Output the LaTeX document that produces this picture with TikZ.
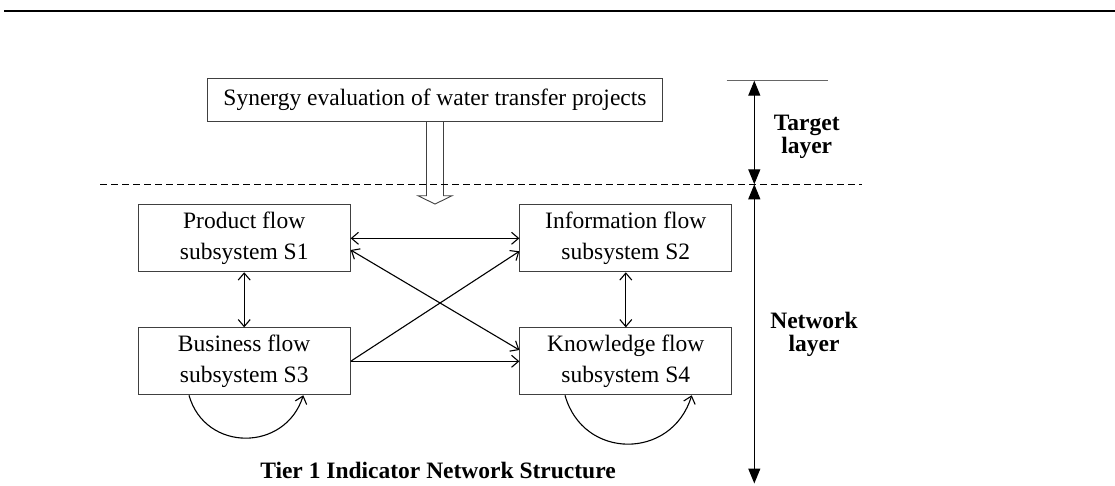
\documentclass[tikz,border=0pt]{standalone}
\usepackage{fontspec}
\setmainfont{Liberation Serif}
\usetikzlibrary{arrows.meta}
\begin{document}
\begin{tikzpicture}[x=1pt,y=-1pt,
  sysbox/.style={draw=black!75,line width=0.9pt,minimum width=212pt,minimum height=67pt,align=center,inner sep=0pt,font=\fontsize{23.5}{31}\selectfont},
  link/.style={line width=1.1pt,-{Straight Barb[length=7pt,width=12pt]}},
  both/.style={line width=1.1pt,{Straight Barb[length=7pt,width=12pt]}-{Straight Barb[length=7pt,width=12pt]}},
  layerarrow/.style={line width=1.2pt,{Triangle[length=15pt,width=12pt]}-{Triangle[length=15pt,width=12pt]}},
  lbl/.style={font=\fontsize{23.5}{23.5}\selectfont\bfseries,align=center,inner sep=0pt}]
\useasboundingbox (0,0) rectangle (1115,486);
\draw[line width=2.5pt] (4,11) -- (1115,11);
% target
\node[sysbox,minimum width=455pt,minimum height=43pt] (T) at (435,99.8) {Synergy evaluation of water transfer projects};
\draw[line width=0.9pt,draw=black!75] ([xshift=-8.5pt]T.south) -- ++(0,74) -- ++(-8.5,0) -- ++(17,8.3) -- ++(17,-8.3) -- ++(-8.5,0) -- ++(0,-74);
% dashed separator
\coordinate (dl) at (100,184.3);
\coordinate (dr) at (862,184.3);
\draw[line width=1pt,dash pattern=on 7pt off 4pt] (dl) -- (dr);
% subsystems
\node[sysbox] (S1) at (244.2,238.3) {Product flow\\subsystem S1};
\node[sysbox] (S2) at (625.8,238.3) {Information flow\\subsystem S2};
\node[sysbox] (S3) at (244.2,361.3) {Business flow\\subsystem S3};
\node[sysbox] (S4) at (625.8,361.3) {Knowledge flow\\subsystem S4};
% connectors
\draw[both] (S1) -- (S2);
\draw[both] (S1) -- (S3);
\draw[both] (S2) -- (S4);
\draw[both] ([yshift=-11.7pt]S1.east) -- ([yshift=11.3pt]S4.west);
\draw[link] (S3.east) -- ([yshift=-13pt]S2.west);
\draw[link] (S3) -- (S4);
\draw[link] ([xshift=-55.2pt]S3.south) .. controls +(16,57) and +(-18,57) .. ([xshift=59.1pt]S3.south);
\draw[link] ([xshift=-60.8pt]S4.south) .. controls +(18,65) and +(-19.7,65) .. ([xshift=65.9pt]S4.south);
% layers
\coordinate (ltop) at (754.3,80.7);
\coordinate (lmid) at (754.3,184.3);
\coordinate (lbot) at (754.3,483.5);
\coordinate (tl) at (726.7,80.7);
\coordinate (tr) at (828.3,80.7);
\draw[black!60,line width=1pt] (tl) -- (tr);
\draw[layerarrow] (ltop) -- (lmid);
\draw[layerarrow] (lmid) -- (lbot);
\node[lbl] (TL) at (806.7,137) {Target\\layer};
\node[lbl] (NL) at (814,334.5) {Network\\layer};
\node[font=\fontsize{23.5}{28}\selectfont\bfseries,anchor=base,inner sep=0pt] (cap) at (438,478) {Tier 1 Indicator Network Structure};
\end{tikzpicture}
\end{document}
